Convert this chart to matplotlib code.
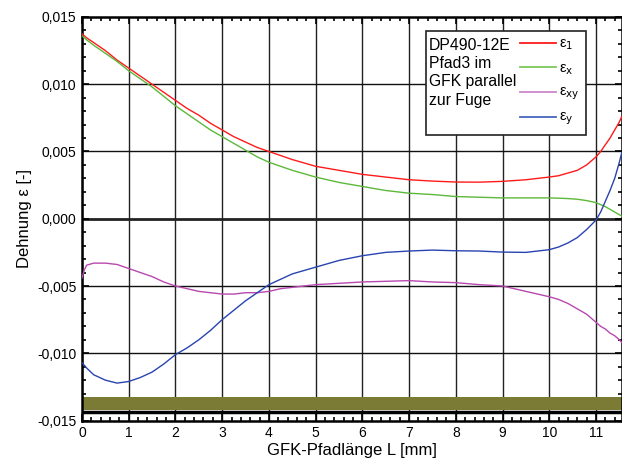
import numpy as np
import matplotlib.pyplot as plt
from matplotlib.patches import Rectangle
from matplotlib.ticker import MultipleLocator, AutoMinorLocator, FuncFormatter

plt.rcParams['font.family'] = ['Liberation Sans', 'DejaVu Sans']

# path length L [mm]
L = [0, 0.05, 0.1, 0.25, 0.5, 0.75, 1, 1.25, 1.5, 1.75, 2, 2.25, 2.5, 2.75, 3, 3.25,
     3.5, 3.75, 4, 4.25, 4.5, 5, 5.5, 6, 6.5, 7, 7.5, 8, 8.5, 9, 9.5,
     10, 10.2, 10.4, 10.6, 10.8, 11, 11.1, 11.2, 11.3, 11.4, 11.5, 11.55]

eps_1 = [0.01375, 0.0136, 0.01345, 0.0131, 0.0125, 0.0118, 0.0112, 0.0106, 0.0100,
         0.0094, 0.0088, 0.0082, 0.0077, 0.0071, 0.0066, 0.0061, 0.0057, 0.0053,
         0.0050, 0.0047, 0.0044, 0.0039, 0.0036, 0.0033, 0.0031, 0.0029, 0.0028,
         0.00273, 0.00272, 0.00278, 0.0029,
         0.0031, 0.0032, 0.0034, 0.0036, 0.0040, 0.0046, 0.0050, 0.0055, 0.0060,
         0.0066, 0.0072, 0.0076]
eps_x = [0.0136, 0.01345, 0.0133, 0.0129, 0.0123, 0.0117, 0.0110, 0.0104, 0.0098,
         0.0091, 0.0084, 0.0078, 0.0072, 0.0066, 0.0061, 0.0056, 0.0051, 0.0046,
         0.0042, 0.0039, 0.0036, 0.0031, 0.0027, 0.0024, 0.0021, 0.0019, 0.0018,
         0.00165, 0.0016, 0.00155, 0.00155,
         0.00155, 0.00153, 0.0015, 0.00145, 0.00135, 0.0012, 0.00105, 0.0009, 0.0007,
         0.0005, 0.0003, 0.0002]
eps_xy = [-0.0044, -0.0038, -0.00345, -0.0033, -0.0033, -0.0034, -0.0037, -0.0040,
          -0.0043, -0.0047, -0.0050, -0.0052, -0.0054, -0.0055, -0.0056, -0.0056,
          -0.0055, -0.0055, -0.0054, -0.0052, -0.0051, -0.0049, -0.0048, -0.0047,
          -0.00465, -0.0046, -0.0047, -0.00475, -0.0049, -0.0050, -0.0054,
          -0.0058, -0.0060, -0.0063, -0.0067, -0.0071, -0.0077, -0.0080, -0.0082,
          -0.0085, -0.0087, -0.0090, -0.0092]
eps_y = [-0.0107, -0.0109, -0.0111, -0.0116, -0.0120, -0.01222, -0.0121, -0.0118,
         -0.0114, -0.0108, -0.0101, -0.0096, -0.0090, -0.0083, -0.0075, -0.0068,
         -0.0061, -0.0055, -0.0049, -0.0045, -0.0041, -0.0036, -0.0031, -0.00275,
         -0.0025, -0.0024, -0.00233, -0.00238, -0.0024, -0.00248, -0.0025,
         -0.0023, -0.0021, -0.0018, -0.0014, -0.0008, -0.0001, 0.0005, 0.0013,
         0.0021, 0.0030, 0.0042, 0.0049]

band = (-0.01425, -0.01328)   # GFK layer
base_line = -0.01438

series = [(eps_1, '#ff1a1a', '#ff1a1a', r'ε$_\mathrm{1}$'),
          (eps_x, '#5cb83a', '#7cc85a', r'ε$_\mathrm{x}$'),
          (eps_xy, '#b848b0', '#cc88cc', r'ε$_\mathrm{xy}$'),
          (eps_y, '#2844b0', '#4466bb', r'ε$_\mathrm{y}$')]

fig = plt.figure(figsize=(6.22, 4.73), dpi=100)
ax = fig.add_axes([82/622, 1 - 420.5/473, 539.7/622, 403.5/473])

xmax = 11.55
ax.set_xlim(0, xmax)
ax.set_ylim(-0.015, 0.015)

# grid
for v in range(0, 12):
    ax.axvline(v, color='#222222', lw=1.0, zorder=1)
for v in [-0.01, -0.005, 0.005, 0.01]:
    ax.axhline(v, color='#111111', lw=1.0, zorder=1)
ax.axhline(0, color='#222222', lw=2.0, zorder=1)

ax.fill_between([0, xmax], band[0], band[1], color='#7c7b35', lw=0, zorder=2)
ax.axhline(base_line, color='black', lw=2.5, zorder=2)

for vals, c, _, _ in series:
    ax.plot(L, vals, color=c, lw=1.0, zorder=3)

ax.xaxis.set_major_locator(MultipleLocator(1))
ax.xaxis.set_minor_locator(AutoMinorLocator(5))
ax.yaxis.set_major_locator(MultipleLocator(0.005))
ax.yaxis.set_minor_locator(AutoMinorLocator(5))
ax.yaxis.set_major_formatter(FuncFormatter(lambda v, p: f'{v:.3f}'.replace('.', ',').replace('-0,000', '0,000')))
ax.tick_params(which='both', direction='in', top=True, right=True, labelsize=10, width=1.2)
ax.tick_params(which='major', length=5, pad=4)
ax.tick_params(which='minor', length=3)
for s in ax.spines.values():
    s.set_linewidth(1.8)

ax.set_xlabel('GFK-Pfadlänge L [mm]', fontsize=12, labelpad=2)
ax.set_ylabel('Dehnung ε [-]', fontsize=12, labelpad=4)

# legend box (pixel positions converted to axes fractions)
def ax_x(px):
    return (px - 82) / 539.7

def ax_y(py):
    return (420.5 - py) / 403.5

ax.add_patch(Rectangle((ax_x(425.7), ax_y(135)), ax_x(585.7) - ax_x(425.7),
                       ax_y(30.7) - ax_y(135), transform=ax.transAxes,
                       facecolor='white', edgecolor='#222222', lw=1.2, zorder=5))
ax.text(ax_x(429), ax_y(37.5), 'DP490-12E\nPfad3 im\nGFK parallel\nzur Fuge',
        transform=ax.transAxes, fontsize=11.3, va='top', ha='left',
        linespacing=1.28, zorder=6)

for i, (_, _, lc, lab) in enumerate(series):
    yy = ax_y(42.7 + 24.7 * i)
    ax.plot([ax_x(520), ax_x(556)], [yy, yy], color=lc, lw=1.3,
            transform=ax.transAxes, zorder=6)
    ax.text(ax_x(559), ax_y(44.5 + 24.7 * i), lab, transform=ax.transAxes,
            fontsize=10.5, va='center', ha='left', zorder=6)

fig.savefig('out.png', dpi=100)
